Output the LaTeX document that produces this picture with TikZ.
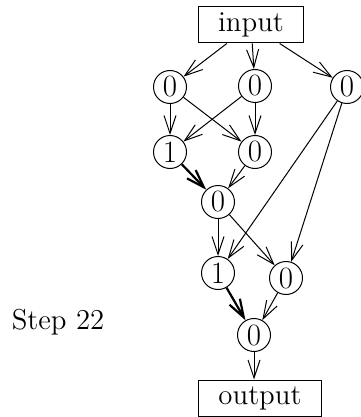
\documentclass[tikz,border=0pt]{standalone}
\usepackage{tikz}
\usetikzlibrary{arrows.meta}

\begin{document}
\begin{tikzpicture}[x=0.5pt,y=-0.5pt,
  every node/.style={font=\fontsize{14.4}{17}\selectfont},
  io/.style={draw,line width=0.5pt,minimum height=18pt,inner xsep=10pt,inner ysep=0pt},
  cell/.style={draw,circle,line width=0.5pt,minimum size=16.5pt,inner sep=0pt,font=\fontsize{15.5}{17}\selectfont},
  link/.style={line width=0.5pt,-{Straight Barb[length=9pt,width=6pt]}},
  heavy/.style={line width=1.1pt,-{Straight Barb[length=9pt,width=6pt]}}]
\useasboundingbox (0,0) rectangle (360,417);

\node[io] (in) at (251,25) {input};
\node[io] (out) at (260,398) {output};

\node[cell] (a) at (170,87) {0};
\node[cell] (b) at (255,86) {0};
\node[cell] (c) at (347,87) {0};
\node[cell] (d) at (170,152) {1};
\node[cell] (e) at (255,152) {0};
\node[cell] (f) at (218,202) {0};
\node[cell] (g) at (218,273) {1};
\node[cell] (h) at (286,278) {0};
\node[cell] (i) at (254,335) {0};

\node (step) at (58,322) {Step 22};

\draw[link] (in) -- (a);
\draw[link] (in) -- (b);
\draw[link] (in) -- (c);
\draw[link] (a) -- (d);
\draw[link] (a) -- (e);
\draw[link] (b) -- (d);
\draw[link] (b) -- (e);
\draw[heavy] (d) -- (f);
\draw[link] (e) -- (f);
\draw[link] (c) -- (g);
\draw[link] (c) -- (h);
\draw[link] (f) -- (g);
\draw[link] (f) -- (h);
\draw[heavy] (g) -- (i);
\draw[link] (h) -- (i);
\draw[link] (i) -- (i |- out.north);
\end{tikzpicture}
\end{document}
